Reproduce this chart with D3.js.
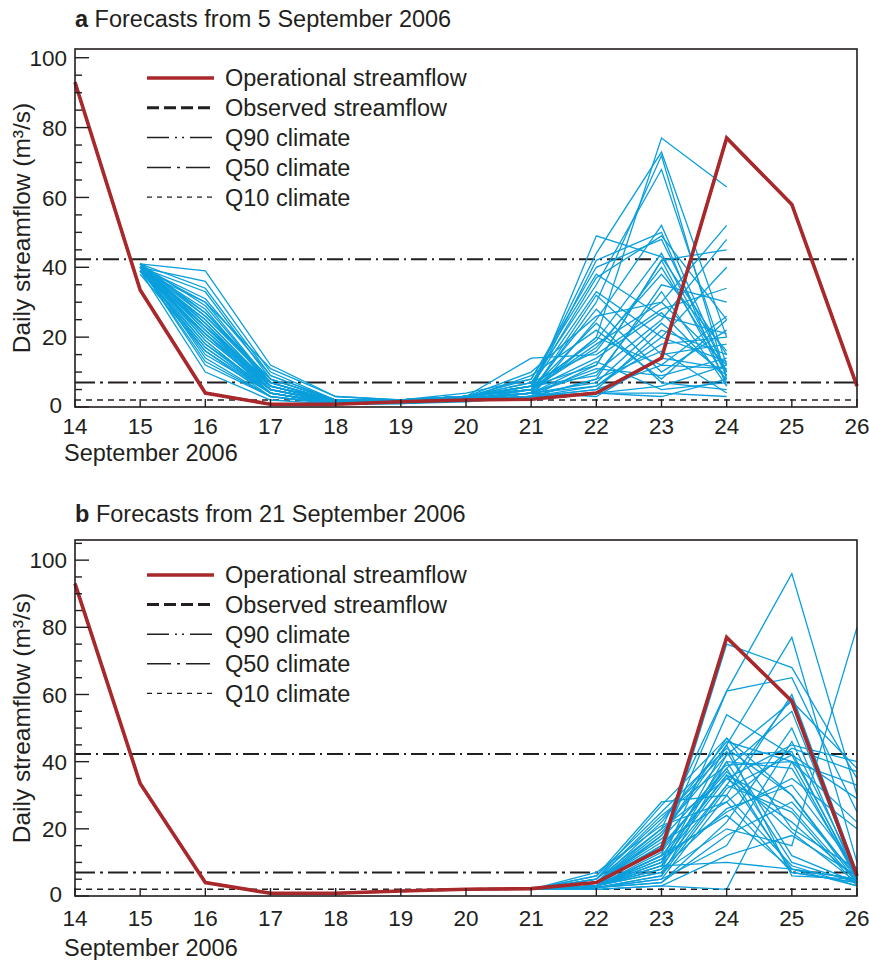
<!DOCTYPE html>
<html>
<head>
<meta charset="utf-8">
<script src="https://cdn.jsdelivr.net/npm/d3@7"></script>
<style>
  html, body { margin: 0; padding: 0; background: #fff; }
  svg { display: block; font-family: "Liberation Sans", Arial, Helvetica, sans-serif; }
</style>
</head>
<body>
<svg id="chart" width="869" height="960"></svg>
<script>
// ---------------- DATA ----------------
const days = [14, 15, 16, 17, 18, 19, 20, 21, 22, 23, 24, 25, 26];
const xTickLabels = ["14","15","16","17","18","19","20","21","22","23","24","25","26"];
const xAxisTitle = "September 2006";
const yAxisTitle = "Daily streamflow (m³/s)";
const yTicksA = [0, 20, 40, 60, 80, 100];
const yTicksB = [0, 20, 40, 60, 80, 100];

const operational = [93, 33.5, 4, 0.8, 0.8, 1.5, 2, 2.2, 4, 14, 77, 58, 6];
const observed    = [93, 33.5, 4, 0.8, 0.8, 1.5, 2, 2.2, 4, 14, 77, 58, 6];

const q90 = 42.3;
const q50 = 7.0;
const q10 = 2.0;

const legendLabels = ["Operational streamflow", "Observed streamflow", "Q90 climate", "Q50 climate", "Q10 climate"];

const titleA = ["a", "Forecasts from 5 September 2006"];
const titleB = ["b", "Forecasts from 21 September 2006"];

// Ensemble forecasts issued 5 Sep: values for days 15..24
const ensDaysA = [15, 16, 17, 18, 19, 20, 21, 22, 23, 24];
const ensembleA = [
  [41,39,12,3,2,3,5,20,77,63],
  [40,36,10,2,2,3,6,44,73,20],
  [41,34,9,2,1.5,2.5,4,30,72,8],
  [40,33,8,2,2,3,7,35,68,12],
  [39,30,7,1.5,1.5,2,3,25,52,10],
  [40,28,6,1.5,2,3,5,42,50,6],
  [41,27,8,2,2,3,6,37,49,25],
  [40,26,7,1.5,1.5,2.5,4,49,43,15],
  [39,25,6,1.5,2,3,8,40,48,10],
  [40,24,5,1.5,1.5,2,3,12,42,45],
  [41,23,6,2,2,3,5,18,30,52],
  [40,22,5,1,1.5,2,4,10,25,48],
  [39,21,4,1,1.5,2.5,6,33,20,40],
  [40,20,5,1.5,2,3,14,15,28,34],
  [41,19,4,1,1.5,2,3,8,35,30],
  [40,18,5,1.5,2,2.5,4,20,12,26],
  [39,17,4,1,1.5,2,5,28,10,22],
  [38,16,3,1,1,2,3,6,18,20],
  [40,15,4,1,1.5,2.5,9,22,8,25],
  [41,14,3,1,1.5,2,4,32,15,18],
  [40,12,3,0.8,1,2,3,5,22,15],
  [39,10,2,0.8,1,1.5,3,4,6,12],
  [40,31,9,2,2,3,7,16,40,10],
  [41,29,7,2,1.5,3,5,14,27,8],
  [40,25,6,1.5,1.5,2.5,4,11,9,14],
  [39,23,5,1.5,2,3,6,9,33,6],
  [40,22,6,1.5,1.5,2,4,7,24,9],
  [41,20,5,1,1.5,2.5,3,5,12,11],
  [40,19,4,1,1.5,2,5,24,7,5],
  [39,17,4,1,1.5,2,4,13,5,7],
  [40,16,4,1,1.5,2,3,8,16,4],
  [40,27,7,1.5,2,3,10,26,30,12],
  [41,24,6,1.5,1.5,2.5,6,19,44,9],
  [40,21,5,1.5,1.5,2,4,6,20,13],
  [39,18,4,1,1.5,2,3,4,3,8],
  [40,13,3,1,1.5,2,3,4,4,3],
  [40,30,11,3,2,4,8,38,26,21],
  [41,26,8,2,2,3,5,17,38,16],
  [40,23,7,1.5,2,3,6,12,42,7],
  [39,21,6,1.5,1.5,2.5,4,3,14,11]
];

// Ensemble forecasts issued 21 Sep: values for days 21..26
const ensDaysB = [21, 22, 23, 24, 25, 26];
const ensembleB = [
  [2,3,12,75,68,35],
  [2,4,20,61,96,30],
  [2,3,15,61,65,25],
  [2,3,10,54,42,6],
  [2,5,27,47,20,8],
  [2,4,22,46,40,5],
  [2,3,18,45,77,10],
  [2,6,25,44,30,4],
  [2,3,8,42,58,38],
  [2,2.5,6,40,10,4],
  [2,4,14,38,55,6],
  [2,3,12,36,8,5],
  [2,5,20,35,45,40],
  [2,3,9,33,25,3],
  [2,2.5,5,30,60,7],
  [2,4,16,28,7,4],
  [2,3,11,25,35,20],
  [2,2.5,4,22,50,5],
  [2,3,7,20,15,80],
  [2,2,3,2,40,33],
  [2,4,19,42,43,5],
  [2,5,23,43,12,4],
  [2,3,13,40,38,6],
  [2,6,28,30,9,3],
  [2,3,10,35,22,5],
  [2,2.5,6,32,42,29],
  [2,4,17,38,7,4],
  [2,3,8,26,33,8],
  [2,2.5,4,18,28,6],
  [2,3,12,24,8,5],
  [2,4,15,37,19,4],
  [2,7,21,28,44,37],
  [2,3,9,45,6,5],
  [2,2.5,5,15,46,7],
  [2,3,11,36,26,4],
  [2,2,3,12,18,6],
  [2,4,18,47,30,5],
  [2,3,9,10,8,3],
  [2,5,24,39,40,22],
  [2,3,7,33,59,5]
];

// ---------------- DRAWING ----------------
const svg = d3.select("#chart");
const ink = "#231f20";
const red = "#a8282b";
const blue = "#0a9fdc";

function panel(cfg) {
  const g = svg.append("g");
  const x = d3.scaleLinear().domain([14, 26]).range([75, 857]);
  const y = d3.scaleLinear().domain([0, cfg.yMax]).range([cfg.bottom, cfg.top]);

  // title
  const t = g.append("text").attr("x", 75).attr("y", cfg.titleY)
    .attr("font-size", 23.5).attr("fill", ink);
  t.append("tspan").attr("font-weight", "bold").text(cfg.title[0]);
  t.append("tspan").text(" " + cfg.title[1]);

  // climate lines
  const climLine = (v, dash, w) => g.append("line")
    .attr("x1", x(14)).attr("x2", x(26)).attr("y1", y(v)).attr("y2", y(v))
    .attr("stroke", ink).attr("stroke-width", w).attr("stroke-dasharray", dash);
  climLine(q10, "6,5", 1.6);
  climLine(q50, "20,5,3,5", 2);
  climLine(q90, "16,5,2,5", 2);

  // ensemble
  const ensLine = d3.line().x((d, i) => x(cfg.ensDays[i])).y(d => y(d));
  g.append("g").selectAll("path").data(cfg.ensemble).join("path")
    .attr("d", ensLine).attr("fill", "none").attr("stroke", blue)
    .attr("stroke-width", 1.3).attr("stroke-linejoin", "miter");

  // observed + operational
  const line = d3.line().x((d, i) => x(days[i])).y(d => y(d));
  g.append("path").attr("d", line(observed)).attr("fill", "none")
    .attr("stroke", ink).attr("stroke-width", 2.5).attr("stroke-dasharray", "12,5");
  g.append("path").attr("d", line(operational)).attr("fill", "none")
    .attr("stroke", red).attr("stroke-width", 3.6).attr("stroke-linejoin", "miter");

  // frame
  g.append("rect").attr("x", x(14)).attr("y", cfg.top)
    .attr("width", x(26) - x(14)).attr("height", cfg.bottom - cfg.top)
    .attr("fill", "none").attr("stroke", ink).attr("stroke-width", 1.6);

  // y axis ticks (inward)
  const minor = d3.range(0, cfg.yMax, 5);
  g.append("g").selectAll("line").data(minor).join("line")
    .attr("x1", x(14)).attr("x2", d => x(14) + (d % 20 === 0 ? 14 : 7))
    .attr("y1", d => y(d)).attr("y2", d => y(d))
    .attr("stroke", ink).attr("stroke-width", 1.4);
  g.append("g").selectAll("text").data(cfg.yTicks).join("text")
    .attr("x", d => d === 0 ? 62 : 67).attr("y", d => d === 0 ? y(d) - 2 : y(d)).attr("dy", "0.36em")
    .attr("text-anchor", "end").attr("font-size", 22.5).attr("fill", ink)
    .text(d => d);

  // x axis ticks (inward)
  g.append("g").selectAll("line").data(days).join("line")
    .attr("x1", d => x(d)).attr("x2", d => x(d))
    .attr("y1", cfg.bottom).attr("y2", cfg.bottom - 8)
    .attr("stroke", ink).attr("stroke-width", 1.4);
  g.append("g").selectAll("text").data(days).join("text")
    .attr("x", d => x(d)).attr("y", cfg.xLabelY)
    .attr("text-anchor", "middle").attr("font-size", 22.5).attr("fill", ink)
    .text((d, i) => xTickLabels[i]);
  g.append("text").attr("x", 64).attr("y", cfg.xTitleY)
    .attr("font-size", 23.5).attr("fill", ink).text(xAxisTitle);

  // y title
  g.append("text")
    .attr("transform", `translate(30,${(cfg.top + cfg.bottom) / 2}) rotate(-90)`)
    .attr("text-anchor", "middle").attr("font-size", 24.5).attr("fill", ink)
    .text(yAxisTitle);

  // legend
  const styles = [
    {stroke: red, w: 3.6, dash: null},
    {stroke: ink, w: 3, dash: "12,5"},
    {stroke: ink, w: 1.5, dash: "22,6,2,5,2,6"},
    {stroke: ink, w: 1.5, dash: "24,6,3,6"},
    {stroke: ink, w: 1.3, dash: "5,5"}
  ];
  legendLabels.forEach((lab, i) => {
    const ly = cfg.legendY + i * cfg.legendStep;
    g.append("line").attr("x1", 147).attr("x2", 214).attr("y1", ly).attr("y2", ly)
      .attr("stroke", styles[i].stroke).attr("stroke-width", styles[i].w)
      .attr("stroke-dasharray", styles[i].dash);
    g.append("text").attr("x", 225).attr("y", ly).attr("dy", "0.36em")
      .attr("font-size", 23.5).attr("fill", ink).text(lab);
  });
}

panel({top: 49, bottom: 407, yMax: 102.5, title: titleA, titleY: 27,
       ensDays: ensDaysA, ensemble: ensembleA, yTicks: yTicksA,
       xLabelY: 434, xTitleY: 461, legendY: 78, legendStep: 29.8});
panel({top: 540, bottom: 896, yMax: 106, title: titleB, titleY: 522,
       ensDays: ensDaysB, ensemble: ensembleB, yTicks: yTicksB,
       xLabelY: 926, xTitleY: 956, legendY: 575, legendStep: 29.6});
</script>
</body>
</html>
